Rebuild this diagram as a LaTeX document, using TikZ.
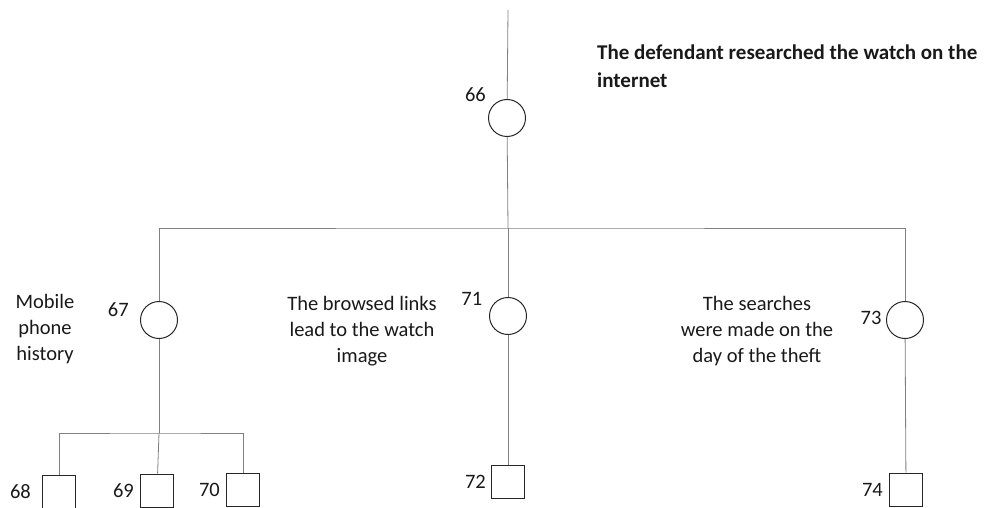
\documentclass[tikz,border=0pt]{standalone}
\usepackage{fontspec}
\setmainfont{Carlito}
\usetikzlibrary{positioning}
\begin{document}
\begin{tikzpicture}[x=1pt,y=1pt,
    circ/.style={draw=black!85,circle,minimum size=37pt,inner sep=0pt,line width=1pt},
    box/.style={draw=black!85,minimum size=33pt,inner sep=0pt,line width=1pt},
    num/.style={inner sep=0pt,text=black!90},
    note/.style={align=center,inner sep=0pt,text=black!90},
    every edge/.style={draw=black!50,line width=.8pt},
    link/.style={draw=black!50,line width=.8pt},
    node distance=5pt,font=\fontsize{20.5}{26}\selectfont]
    \clip (0,0) rectangle (984,507);

    \coordinate (top) at (508,497);
    \node[circ] (c66) at (507,389) {};
    \path (c66) ++(144:39) node[num] (l66) {66};
    \coordinate (j66) at (508,279);
    \node[note,font=\fontsize{21}{28}\selectfont\bfseries,align=left,anchor=west] (title) at (597,441)
        {The defendant researched the watch on the\\internet};

    \node[circ] (c67) at (159,187) {};
    \path (c67) ++(166:42) node[num] (l67) {67};
    \node[note] (t67) at (45,178) {Mobile\\phone\\history};
    \coordinate (j67) at (159,74);

    \node[circ] (c71) at (508,191) {};
    \path (c71) ++(155:40) node[num] (l71) {71};
    \node[note] (t71) at (362,176) {The browsed links\\lead to the watch\\image};

    \node[circ] (c73) at (905,187) {};
    \path (c73) ++(177:34) node[num] (l73) {73};
    \node[note] (t73) at (757,176) {The searches\\were made on the\\day of the theft};

    \node[box] (s68) at (59,15.5) {};
    \node[box] (s69) at (157,16.5) {};
    \node[box] (s70) at (243,17.5) {};
    \node[box] (s72) at (508,25.5) {};
    \node[box] (s74) at (906,17.5) {};
    \node[num,left=11pt of s68] (l68) {68};
    \node[num,left=6pt of s69] (l69) {69};
    \node[num,left=6pt of s70] (l70) {70};
    \node[num,left=5pt of s72] (l72) {72};
    \node[num,left=6pt of s74] (l74) {74};

    \path
        (top) edge (c66)
        (c66) edge (j66)
        (j66) edge (c71)
        (c71) edge (s72)
        (c73) edge (s74)
        (c67) edge (j67)
        (j67) edge (s69);
    \draw[link] (c67) |- (j66) -| (c73);
    \draw[link] (s68) |- (j67) -| (s70);
\end{tikzpicture}
\end{document}
